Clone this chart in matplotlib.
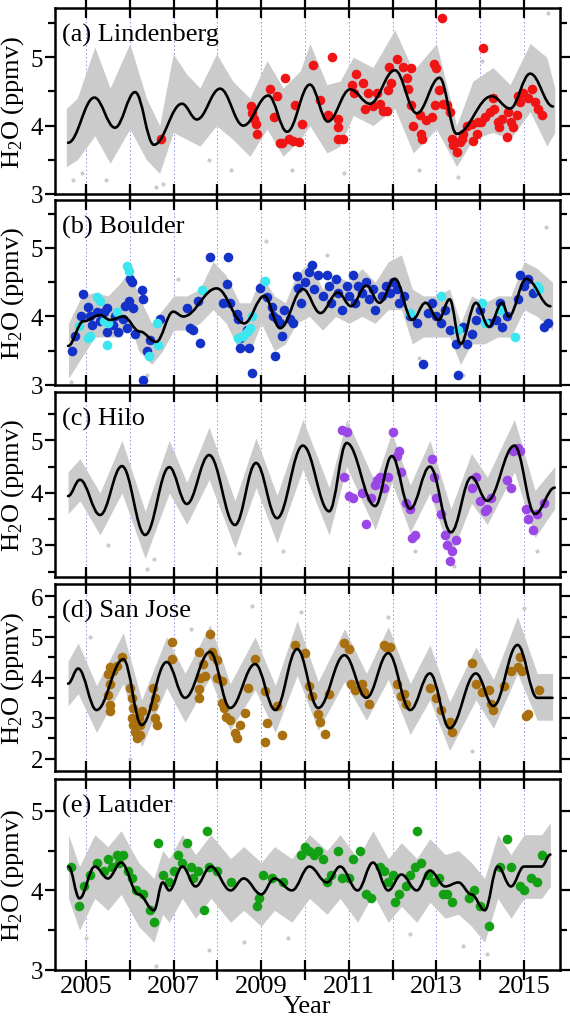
import matplotlib
matplotlib.use("Agg")
import matplotlib.pyplot as plt
from matplotlib.path import Path
from matplotlib.patches import PathPatch

plt.rcParams['font.family'] = ['Liberation Serif', 'DejaVu Serif']
plt.rcParams['mathtext.fontset'] = 'custom'
plt.rcParams['mathtext.rm'] = 'Liberation Serif'
plt.rcParams['mathtext.default'] = 'regular'

# ---------------- data ----------------
station_names = ["(a) Lindenberg", "(b) Boulder", "(c) Hilo", "(d) San Jose", "(e) Lauder"]
year_ticks = [2005, 2006, 2007, 2008, 2009, 2010, 2011, 2012, 2013, 2014, 2015]
year_labels = ["2005", "", "2007", "", "2009", "", "2011", "", "2013", "", "2015"]

# (a) Lindenberg
a_fit_t = [2004.59, 2005.19, 2005.66, 2006.12, 2006.55, 2007.19, 2007.53, 2008.06, 2008.59, 2009.16, 2009.59,
           2010.11, 2010.52, 2011.03, 2011.48, 2012.05, 2012.55, 2013.07, 2013.46, 2014.26, 2014.68, 2015.14, 2015.66]
a_fit_v = [3.75, 4.41, 3.97, 4.49, 3.72, 4.32, 4.09, 4.54, 4.00, 4.44, 3.91,
           4.60, 4.06, 4.53, 4.32, 4.81, 4.18, 4.70, 3.88, 4.43, 4.25, 4.76, 4.28]
a_env_t = [2004.55, 2004.8, 2005.2, 2005.55, 2006.0, 2006.38, 2006.68, 2006.99, 2007.3, 2007.6, 2007.98, 2008.35,
           2008.74, 2009.13, 2009.5, 2009.89, 2010.11, 2010.5, 2010.8, 2011.1, 2011.55, 2012.05, 2012.47, 2013.0,
           2013.46, 2013.83, 2014.29, 2014.68, 2015.14, 2015.52, 2015.7]
a_env_hi = [4.25, 4.4, 5.15, 4.55, 5.2, 4.4, 4.0, 5.05, 4.75, 4.55, 5.05, 4.65,
            4.4, 4.95, 4.55, 4.8, 5.2, 4.6, 4.65, 5.0, 4.85, 5.4, 4.8, 5.2,
            4.0, 4.65, 4.85, 4.6, 5.2, 5.0, 4.55]
a_env_lo = [3.4, 3.5, 3.85, 3.45, 3.95, 3.5, 3.3, 3.9, 3.8, 3.7, 4.0, 3.8,
            3.55, 3.95, 3.55, 3.8, 4.0, 3.6, 3.7, 4.15, 4.0, 4.25, 3.6, 3.95,
            3.4, 3.8, 3.9, 3.8, 4.2, 3.7, 3.9]
a_out_t = [2004.7, 2004.9, 2005.45, 2006.6, 2006.75, 2007.8, 2008.3, 2009.7, 2010.9, 2012.6, 2013.5, 2014.05, 2015.55]
a_out_v = [3.2, 3.3, 3.2, 3.1, 3.15, 3.5, 3.35, 3.35, 3.3, 3.35, 3.25, 4.95, 5.65]
a_pts_t = [2006.71, 2008.76, 2008.8, 2008.84, 2008.88, 2008.9, 2009.2, 2009.35, 2009.54, 2009.3, 2009.42, 2009.77,
           2009.63, 2009.47, 2009.93, 2009.73, 2009.86, 2010.18, 2010.62, 2010.34, 2010.53, 2010.75, 2010.76, 2010.76,
           2010.87, 2011.07, 2011.16, 2011.12, 2011.33, 2011.44, 2011.64, 2011.37, 2011.56, 2011.71, 2011.78, 2011.86,
           2011.89, 2011.97, 2011.92, 2012.09, 2012.23, 2012.32, 2012.42, 2012.35, 2012.42, 2012.46, 2012.62, 2012.65,
           2012.67, 2012.76, 2012.9, 2012.95, 2013.0, 2013.12, 2013.05, 2012.97, 2013.15, 2013.23, 2013.32, 2013.35,
           2013.38, 2013.47, 2013.58, 2013.61, 2013.54, 2013.7, 2013.8, 2013.83, 2013.92, 2013.95, 2014.02, 2014.07,
           2014.1, 2014.22, 2014.29, 2014.32, 2014.4, 2014.43, 2014.49, 2014.6, 2014.63, 2014.71, 2014.75, 2014.84,
           2014.86, 2014.9, 2014.98, 2015.09, 2015.17, 2015.25, 2015.32, 2015.4]
a_pts_v = [3.81, 4.29, 4.18, 4.10, 4.03, 3.88, 4.53, 4.44, 4.70, 4.12, 3.75, 4.30,
           3.80, 3.74, 4.03, 3.78, 3.76, 4.88, 5.00, 4.38, 4.15, 4.10, 3.98, 3.81,
           3.81, 4.60, 4.75, 4.47, 4.62, 4.47, 4.47, 4.25, 4.28, 4.32, 4.22, 4.22,
           4.52, 4.62, 4.86, 4.98, 4.86, 4.69, 4.84, 4.54, 4.30, 4.00, 4.15, 3.88,
           3.81, 4.08, 4.13, 4.90, 4.84, 5.57, 4.52, 4.30, 4.32, 4.30, 4.20, 3.81,
           3.71, 3.61, 3.81, 3.88, 3.76, 4.00, 4.03, 3.78, 3.88, 4.06, 4.06, 5.14,
           4.13, 4.20, 4.40, 4.25, 4.06, 3.98, 4.10, 3.83, 4.20, 4.06, 3.98, 4.15,
           4.44, 4.35, 4.47, 4.40, 4.54, 4.35, 4.25, 4.15]

# (b) Boulder
b_fit_t = [2004.59, 2004.94, 2005.32, 2005.55, 2005.85, 2006.23, 2006.6, 2006.99, 2007.22, 2007.98, 2008.61,
           2009.07, 2009.43, 2009.95, 2010.35, 2010.75, 2011.05, 2011.4, 2011.7, 2012.05, 2012.45, 2012.75,
           2013.05, 2013.3, 2013.55, 2013.9, 2014.2, 2014.5, 2014.65, 2015.05, 2015.6]
b_fit_v = [3.57, 3.93, 4.02, 3.95, 4.0, 3.78, 3.63, 4.07, 4.0, 4.41, 3.90,
           4.30, 3.83, 4.40, 4.05, 4.35, 4.15, 4.45, 4.2, 4.55, 3.95, 4.2,
           3.95, 4.25, 3.6, 4.2, 3.85, 4.2, 4.0, 4.55, 4.15]
b_env_t = [2004.6, 2004.9, 2005.2, 2005.5, 2005.8, 2006.0, 2006.2, 2006.5, 2006.75, 2007.0, 2007.3, 2007.6,
           2007.9, 2008.2, 2008.5, 2008.75, 2009.0, 2009.3, 2009.55, 2009.8, 2010.1, 2010.4, 2010.7, 2011.0,
           2011.3, 2011.6, 2011.9, 2012.2, 2012.45, 2012.7, 2013.0, 2013.3, 2013.55, 2013.8, 2014.1, 2014.4,
           2014.7, 2015.0, 2015.3, 2015.65]
b_env_hi = [3.9, 4.3, 4.35, 4.3, 4.5, 4.7, 4.3, 3.9, 4.1, 4.3, 4.3, 4.4,
            4.8, 4.6, 4.2, 4.2, 4.6, 4.3, 4.2, 4.6, 4.8, 4.4, 4.6, 4.5,
            4.7, 4.5, 4.8, 4.9, 4.4, 4.3, 4.3, 4.4, 3.9, 4.3, 4.2, 4.3,
            4.3, 4.8, 4.7, 4.5]
b_env_lo = [3.1, 3.4, 3.7, 3.7, 3.7, 3.9, 3.5, 3.3, 3.5, 3.8, 3.8, 3.9,
            4.1, 3.9, 3.5, 3.5, 3.9, 3.5, 3.6, 3.9, 4.0, 3.8, 4.0, 3.9,
            4.0, 3.9, 4.1, 4.1, 3.6, 3.7, 3.7, 3.7, 3.3, 3.6, 3.6, 3.7,
            3.7, 4.1, 4.0, 3.8]
b_out_t = [2004.65, 2006.4, 2007.1, 2009.1, 2010.5, 2012.6, 2013.6, 2015.5]
b_out_v = [3.05, 3.15, 4.55, 5.1, 4.9, 3.4, 3.15, 5.3]
b_blue_t = [2004.68, 2004.75, 2004.93, 2004.88, 2005.05, 2005.09, 2005.13, 2005.25, 2005.32, 2005.4, 2005.48, 2005.62,
            2005.47, 2005.66, 2005.74, 2005.85, 2005.89, 2005.93, 2005.97, 2006.0, 2006.05, 2006.08, 2006.12, 2006.27,
            2006.31, 2006.39, 2006.46, 2006.31, 2006.69, 2007.3, 2007.37, 2007.45, 2007.56, 2007.6, 2007.83, 2008.25,
            2008.21, 2008.13, 2008.29, 2008.44, 2008.48, 2008.52, 2008.52, 2008.71, 2008.79, 2008.67, 2008.97, 2009.12,
            2009.24, 2009.27, 2009.31, 2009.35, 2009.43, 2009.47, 2009.51, 2009.66, 2009.73, 2009.82, 2009.84,
            2009.9, 2010.0, 2010.1, 2010.15, 2010.2, 2010.3, 2010.4, 2010.5, 2010.55, 2010.6, 2010.7, 2010.75,
            2010.85, 2010.95, 2011.0, 2011.1, 2011.15, 2011.2, 2011.3, 2011.4, 2011.45, 2011.55, 2011.6, 2011.75,
            2011.85, 2011.95, 2012.0, 2012.1, 2012.15, 2012.25, 2012.4, 2012.55, 2012.7, 2012.8, 2012.9, 2013.0,
            2013.1, 2013.2, 2013.3, 2013.45, 2013.5, 2013.6, 2013.7, 2013.8, 2013.9, 2014.0, 2014.2, 2014.35,
            2014.45, 2014.5, 2014.6, 2014.85, 2014.9, 2015.0, 2015.1, 2015.2, 2015.3, 2015.45, 2015.55]
b_blue_v = [3.49, 3.72, 4.33, 4.01, 4.14, 4.01, 3.87, 4.07, 3.93, 4.07, 4.12, 3.87,
            3.78, 4.01, 3.78, 3.97, 4.16, 3.83, 4.23, 4.55, 4.51, 4.12, 3.75, 4.38,
            4.26, 3.49, 3.65, 3.07, 3.97, 4.12, 3.83, 3.80, 4.22, 3.61, 4.87, 4.87,
            4.48, 4.19, 4.19, 4.04, 3.97, 3.68, 3.54, 3.54, 3.17, 3.80, 4.41, 4.29,
            4.14, 4.01, 3.43, 3.97, 3.90, 3.72, 4.09, 3.97, 3.90, 4.59, 4.41,
            4.2, 4.5, 4.65, 4.75, 4.4, 4.6, 4.3, 4.6, 4.45, 4.2, 4.55, 4.35,
            4.1, 4.45, 4.3, 4.6, 4.2, 4.45, 4.35, 4.5, 4.25, 4.4, 4.1, 4.3,
            4.45, 4.35, 4.5, 4.4, 4.2, 4.3, 4.0, 3.9, 3.3, 4.05, 4.2, 4.0,
            3.9, 4.1, 3.8, 3.6, 3.15, 3.85, 3.6, 3.75, 3.95, 4.1, 3.9, 3.95,
            4.2, 3.85, 4.0, 4.25, 4.6, 4.45, 4.55, 4.35, 4.4, 3.85, 3.9]
b_cyan_t = [2004.85, 2005.09, 2005.05, 2005.25, 2005.32, 2005.4, 2005.51, 2005.47, 2005.7, 2005.93, 2005.97,
            2006.43, 2006.62, 2006.65, 2007.64, 2008.48, 2008.59, 2008.67, 2008.74, 2008.78, 2009.09,
            2012.4, 2013.1, 2013.5, 2014.05, 2014.1, 2014.45, 2014.8, 2015.3, 2015.35]
b_cyan_v = [3.86, 3.72, 3.68, 4.29, 4.22, 3.93, 3.90, 3.58, 4.07, 4.74, 4.67,
            3.43, 3.90, 3.58, 4.38, 3.68, 3.72, 3.78, 3.83, 4.01, 4.52,
            4.05, 4.3, 3.8, 4.2, 3.9, 4.1, 3.7, 4.45, 4.4]

# (c) Hilo
c_fit_t = [2004.59, 2004.86, 2005.32, 2005.82, 2006.35, 2006.9, 2007.3, 2007.81, 2008.4, 2008.88, 2009.36,
           2009.95, 2010.55, 2010.95, 2011.6, 2011.98, 2012.4, 2012.85, 2013.33, 2013.8, 2014.16, 2014.78,
           2015.25, 2015.7]
c_fit_v = [3.94, 4.25, 3.58, 4.51, 3.20, 4.49, 3.79, 4.72, 3.39, 4.57, 3.52,
           4.90, 3.65, 4.95, 3.75, 4.70, 3.70, 4.50, 3.25, 4.30, 3.85, 4.90,
           3.60, 4.10]
c_env_t = c_fit_t
c_env_hi = [4.4, 4.65, 4.0, 5.0, 3.65, 5.0, 4.2, 5.25, 3.85, 5.05, 3.95,
            5.4, 4.1, 5.4, 4.2, 5.15, 4.15, 5.0, 3.7, 4.75, 4.3, 5.4,
            4.05, 4.5]
c_env_lo = [3.6, 3.85, 3.2, 4.0, 2.75, 4.0, 3.4, 4.25, 2.95, 4.1, 3.05,
            4.45, 3.2, 4.5, 3.3, 4.2, 3.25, 4.0, 2.8, 3.8, 3.4, 4.4,
            3.15, 3.7]
c_out_t = [2005.5, 2006.4, 2006.55, 2008.5, 2009.5, 2012.5, 2013.4, 2015.3]
c_out_v = [3.0, 2.55, 2.75, 2.85, 2.9, 2.9, 2.6, 2.9]
c_pts_t = [2010.85, 2010.95, 2010.9, 2011.0, 2011.1, 2011.3, 2011.4, 2011.5, 2011.6, 2011.65, 2011.7, 2011.8,
           2011.9, 2012.0, 2012.1, 2012.15, 2012.2, 2012.3, 2012.4, 2012.45, 2012.5, 2012.9, 2012.95, 2013.0,
           2013.1, 2013.2, 2013.25, 2013.3, 2013.35, 2013.45, 2013.8, 2013.9, 2014.0, 2014.1, 2014.15, 2014.25,
           2014.6, 2014.7, 2014.75, 2014.85, 2014.9, 2015.05, 2015.1, 2015.2, 2015.3, 2015.45]
c_pts_v = [5.2, 5.15, 4.3, 3.95, 3.9, 4.0, 3.4, 3.9, 4.15, 4.25, 4.3, 4.1,
           4.3, 5.15, 4.7, 4.8, 4.4, 3.8, 3.7, 3.15, 3.2, 4.65, 4.3, 3.9,
           3.6, 3.2, 3.0, 2.7, 2.9, 3.1, 4.1, 4.3, 3.85, 3.65, 3.7, 3.9,
           4.25, 4.1, 4.8, 4.85, 4.8, 3.7, 3.5, 3.3, 3.6, 3.8]

# (d) San Jose
d_fit_t = [2004.59, 2004.82, 2005.24, 2005.85, 2006.27, 2006.84, 2007.26, 2007.83, 2008.29, 2008.86, 2009.32,
           2009.82, 2010.3, 2010.9, 2011.4, 2011.9, 2012.4, 2012.85, 2013.3, 2013.9, 2014.3, 2014.85, 2015.3, 2015.65]
d_fit_v = [3.85, 4.22, 3.20, 4.45, 2.83, 4.38, 3.50, 4.63, 3.25, 4.33, 3.20,
           4.70, 3.25, 4.55, 3.50, 4.60, 3.20, 4.10, 2.75, 4.10, 3.30, 4.80, 3.50, 3.50]
d_env_t = d_fit_t
d_env_hi = [4.4, 4.85, 3.8, 5.1, 3.45, 5.0, 4.1, 5.3, 3.85, 5.0, 3.8,
            5.4, 3.9, 5.2, 4.1, 5.25, 3.85, 4.8, 3.4, 4.75, 3.95, 5.5, 4.1, 4.1]
d_env_lo = [3.3, 3.6, 2.65, 3.85, 2.3, 3.75, 2.9, 4.0, 2.7, 3.7, 2.65,
            4.05, 2.7, 3.9, 2.95, 3.95, 2.6, 3.45, 2.2, 3.45, 2.75, 4.1, 2.95, 2.95]
d_out_t = [2005.1, 2006.0, 2007.4, 2008.8, 2009.9, 2011.9, 2013.8, 2015.0]
d_out_v = [5.0, 2.0, 5.2, 5.75, 5.6, 5.5, 2.2, 5.7]
d_pts_t = [2005.55, 2005.5, 2005.55, 2005.5, 2005.55, 2005.55, 2005.62, 2005.7, 2005.82, 2006.0, 2006.05, 2006.08,
           2006.05, 2006.08, 2006.12, 2006.17, 2006.24, 2006.2, 2006.27, 2006.23, 2006.54, 2006.58, 2006.54, 2006.58,
           2006.62, 2006.96, 2006.96, 2007.58, 2007.6, 2007.58, 2007.58, 2007.67, 2007.72, 2007.83, 2007.87, 2007.9,
           2007.98, 2008.0, 2008.1, 2008.1, 2008.15, 2008.2, 2008.29, 2008.4, 2008.44, 2008.52, 2008.63, 2008.7,
           2008.86, 2009.08, 2009.12, 2009.08, 2009.36, 2009.47, 2009.77,
           2010.0, 2010.1, 2010.15, 2010.3, 2010.35, 2010.45, 2010.55, 2010.9, 2011.0, 2011.05, 2011.15, 2011.3,
           2011.35, 2011.45, 2011.8, 2011.85, 2011.95, 2012.1, 2012.2, 2012.25, 2012.3, 2012.85, 2013.0, 2013.1,
           2013.3, 2013.35, 2013.8, 2013.9, 2014.05, 2014.2, 2014.25, 2014.3, 2014.55, 2014.7, 2014.85, 2014.9,
           2014.95, 2015.05, 2015.1, 2015.35]
d_pts_v = [4.25, 4.08, 3.83, 3.58, 3.33, 3.17, 4.17, 4.29, 4.50, 3.75, 3.5, 3.25,
           3.0, 2.83, 2.67, 2.5, 2.58, 3.0, 3.17, 2.83, 3.75, 3.5, 3.29, 3.0,
           2.83, 4.46, 4.88, 4.63, 4.0, 3.71, 3.5, 4.33, 4.04, 5.08, 4.63, 4.54,
           4.42, 4.0, 3.92, 3.38, 3.25, 3.04, 2.96, 2.63, 2.52, 2.83, 3.13, 3.75,
           4.46, 3.67, 2.88, 2.42, 3.29, 2.58, 4.79,
           4.6, 3.8, 3.55, 3.1, 2.9, 2.6, 3.6, 4.85, 4.7, 3.85, 3.7, 3.85,
           3.65, 3.35, 4.8, 4.75, 4.75, 3.85, 3.55, 3.6, 3.35, 3.75, 3.5, 3.2,
           2.9, 2.65, 4.35, 3.85, 3.65, 3.7, 3.35, 3.2, 3.8, 4.15, 4.25, 4.5,
           4.15, 3.05, 3.1, 3.7]

# (e) Lauder
e_fit_t = [2004.6, 2004.85, 2005.2, 2005.5, 2005.8, 2006.2, 2006.55, 2006.75, 2006.9, 2007.2, 2007.5, 2007.85,
           2008.3, 2008.6, 2009.0, 2009.3, 2009.7, 2010.1, 2010.5, 2010.8, 2011.2, 2011.55, 2011.9, 2012.2,
           2012.55, 2012.85, 2013.2, 2013.5, 2013.8, 2014.1, 2014.4, 2014.7, 2015.0, 2015.4, 2015.6]
e_fit_v = [4.3, 3.9, 4.3, 4.15, 4.35, 3.95, 3.75, 4.1, 4.0, 4.3, 4.05, 4.3,
           4.0, 4.15, 3.95, 4.15, 4.0, 4.3, 4.1, 4.3, 4.0, 4.35, 4.0, 4.2,
           4.0, 4.25, 4.05, 4.1, 3.95, 3.75, 4.3, 4.05, 4.3, 4.3, 4.45]
e_env_t = e_fit_t
e_env_hi = [4.7, 4.3, 4.7, 4.55, 4.75, 4.35, 4.15, 4.5, 4.4, 4.7, 4.45, 4.7,
            4.4, 4.55, 4.35, 4.55, 4.4, 4.7, 4.5, 4.7, 4.4, 4.75, 4.4, 4.6,
            4.4, 4.65, 4.45, 4.5, 4.35, 4.15, 4.7, 4.45, 4.7, 4.7, 4.85]
e_env_lo = [3.9, 3.5, 3.9, 3.75, 3.95, 3.55, 3.35, 3.7, 3.6, 3.9, 3.65, 3.9,
            3.6, 3.75, 3.55, 3.75, 3.6, 3.9, 3.7, 3.9, 3.6, 3.95, 3.6, 3.8,
            3.6, 3.85, 3.65, 3.7, 3.55, 3.35, 3.9, 3.65, 3.9, 3.9, 4.05]
e_out_t = [2005.0, 2006.6, 2007.8, 2008.6, 2009.6, 2012.4, 2013.6, 2014.15]
e_out_v = [3.4, 3.05, 3.25, 3.35, 3.4, 3.45, 3.3, 3.2]
e_pts_t = [2004.65, 2004.85, 2004.95, 2005.1, 2005.25, 2005.4, 2005.5, 2005.6, 2005.7, 2005.75, 2005.85, 2005.95,
           2006.05, 2006.15, 2006.3, 2006.45, 2006.55, 2006.65, 2006.75, 2006.9, 2007.0, 2007.1, 2007.2, 2007.3,
           2007.4, 2007.45, 2007.55, 2007.7, 2007.75, 2007.8, 2008.0, 2008.3, 2008.9, 2008.95, 2009.05, 2009.25,
           2009.5, 2009.9, 2010.0, 2010.1, 2010.2, 2010.3, 2010.4, 2010.5, 2010.6, 2010.75, 2010.85, 2011.0,
           2011.1, 2011.25, 2011.4, 2011.5, 2011.7, 2011.8, 2011.9, 2012.0, 2012.05, 2012.15, 2012.3, 2012.4,
           2012.5, 2012.55, 2012.65, 2012.8, 2012.95, 2013.05, 2013.15, 2013.25, 2013.35, 2013.75, 2013.85, 2014.0,
           2014.2, 2014.45, 2014.6, 2014.7, 2014.9, 2015.0, 2015.15, 2015.3, 2015.4]
e_pts_v = [4.3, 3.8, 4.05, 4.2, 4.35, 4.25, 4.4, 4.3, 4.45, 4.35, 4.45, 4.25,
           4.15, 4.0, 3.95, 3.75, 3.6, 4.6, 4.2, 4.1, 4.25, 4.45, 4.35, 4.6,
           4.3, 4.15, 4.25, 3.75, 4.75, 4.3, 4.25, 4.1, 3.8, 3.9, 4.2, 4.15,
           4.1, 4.45, 4.55, 4.5, 4.45, 4.5, 4.4, 4.1, 4.2, 4.5, 4.15, 4.15,
           4.4, 4.5, 3.95, 3.9, 4.3, 4.25, 4.1, 4.2, 3.85, 3.95, 4.05, 4.2,
           4.3, 4.75, 4.35, 4.2, 4.1, 4.15, 3.95, 3.95, 3.85, 3.9, 4.0, 3.8,
           3.55, 4.3, 4.65, 4.3, 4.05, 4.0, 4.15, 4.1, 4.45]

# ---------------- styling ----------------
gray = '#cbcbcb'
red = '#f01414'
blue = '#1432c8'
cyan = '#3ce6f0'
purple = '#9b46e6'
brown = '#a8700e'
green = '#14a014'

ylims = [(3.0, 5.72), (3.0, 5.7), (2.4, 5.92), (1.7, 6.3), (3.0, 5.4)]
yticks_major = [[3, 4, 5], [3, 4, 5], [3, 4, 5], [2, 3, 4, 5, 6], [3, 4, 5]]
boxes_px = [(9, 195), (201, 386), (393, 578), (585, 772), (780, 971)]

W, H = 570, 1020
fig = plt.figure(figsize=(W / 100, H / 100), dpi=100)
left_px, right_px = 54.5, 560


def smooth_curve(ax, ts, vs):
    verts = [(ts[0], vs[0])]
    codes = [Path.MOVETO]
    for i in range(len(ts) - 1):
        t0, v0, t1, v1 = ts[i], vs[i], ts[i + 1], vs[i + 1]
        d = t1 - t0
        verts += [(t0 + 0.38 * d, v0), (t1 - 0.38 * d, v1), (t1, v1)]
        codes += [Path.CURVE4] * 3
    ax.add_patch(PathPatch(Path(verts, codes), fill=False, lw=1.9, ec='black', zorder=5, capstyle='round'))


panels = [
    (a_fit_t, a_fit_v, a_env_t, a_env_lo, a_env_hi, a_out_t, a_out_v, [(a_pts_t, a_pts_v, red)]),
    (b_fit_t, b_fit_v, b_env_t, b_env_lo, b_env_hi, b_out_t, b_out_v, [(b_blue_t, b_blue_v, blue), (b_cyan_t, b_cyan_v, cyan)]),
    (c_fit_t, c_fit_v, c_env_t, c_env_lo, c_env_hi, c_out_t, c_out_v, [(c_pts_t, c_pts_v, purple)]),
    (d_fit_t, d_fit_v, d_env_t, d_env_lo, d_env_hi, d_out_t, d_out_v, [(d_pts_t, d_pts_v, brown)]),
    (e_fit_t, e_fit_v, e_env_t, e_env_lo, e_env_hi, e_out_t, e_out_v, [(e_pts_t, e_pts_v, green)]),
]

for i, (ft, fv, et, elo, ehi, ot, ov, pts) in enumerate(panels):
    top, bot = boxes_px[i]
    ax = fig.add_axes([left_px / W, 1 - bot / H, (right_px - left_px) / W, (bot - top) / H])
    ax.set_xlim(2004.28, 2015.82)
    ax.set_ylim(*ylims[i])
    for yr in year_ticks:
        ax.axvline(yr, color='#8c8ce6', lw=0.7, ls=(0, (1.5, 2.5)), zorder=0)
    ax.fill_between(et, elo, ehi, color=gray, lw=0, zorder=1)
    ax.scatter(ot, ov, s=9, color=gray, lw=0, zorder=1)
    for (pt, pv, col) in pts:
        ax.scatter(pt, pv, s=48, color=col, lw=0, zorder=3)
    smooth_curve(ax, ft, fv)

    ax.set_xticks(year_ticks)
    if i == 4:
        ax.set_xticklabels(year_labels, fontsize=19)
        ax.set_xlabel('Year', fontsize=19, labelpad=-1)
    else:
        ax.set_xticklabels([])
    ax.tick_params(axis='x', which='major', direction='inout', length=15, width=1.6, top=True, bottom=True, pad=-4)
    ax.set_yticks(yticks_major[i])
    lo, hi = ylims[i]
    minors = [m + 0.5 for m in range(1, 7) if lo <= m + 0.5 <= hi]
    ax.set_yticks(minors, minor=True)
    ax.tick_params(axis='y', which='major', direction='out', length=7, width=1.6, left=True, right=True,
                   labelsize=18, pad=1)
    ax.tick_params(axis='y', which='minor', direction='out', length=5, width=1.6, left=True, right=True)
    for s in ax.spines.values():
        s.set_linewidth(1.8)
    ax.set_ylabel(r'H$_2$O (ppmv)', fontsize=19)
    ax.yaxis.set_label_coords(-0.057, 0.5)
    ax.text(0.015, 0.92, station_names[i], transform=ax.transAxes, fontsize=19, va='top', ha='left', zorder=6)

fig.savefig('out.png', dpi=100)
